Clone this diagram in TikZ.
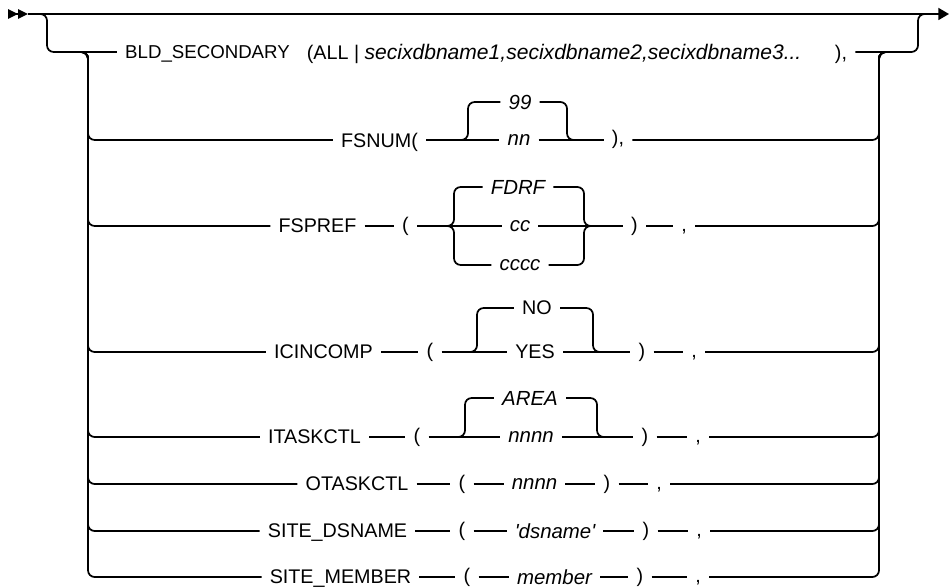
\documentclass[tikz,border=0pt]{standalone}
\usepackage{fontspec}
\setmainfont{Liberation Sans}
\usepackage{tikz}
\usetikzlibrary{arrows.meta}

\begin{document}
\begin{tikzpicture}[x=0.75pt, y=-0.75pt,
    rail/.style={line width=1.3pt},
    bus/.style={line width=1.8pt},
    turn/.style={rail, rounded corners=5pt},
    kw/.style={inner xsep=6pt, inner ysep=0pt, text depth=0pt, font=\fontsize{14.8}{17}\selectfont},
    var/.style={kw, font=\fontsize{15.3}{18}\selectfont\itshape},
    punct/.style={kw, text height=10.5pt, text depth=3pt}]
    \useasboundingbox (0,0) rectangle (949,588);

    % main line
    \coordinate (start) at (8,14);
    \coordinate (entry) at (28,14);
    \coordinate (exit) at (949,14);
    \coordinate (drop-l) at (34,14);
    \coordinate (join-r) at (928,14);
    \draw[rail, -{Triangle[length=7.5pt,width=7pt]Triangle[length=7.5pt,width=7pt]}] (start) -- (entry);
    \draw[rail, -{Triangle[length=8pt,width=9pt]}] (entry) -- (exit);

    \coordinate (busl-join) at (78,52);
    \coordinate (busl) at (88,52);
    \coordinate (busr) at (879,52);
    \coordinate (busr-join) at (895,52);
    \draw[bus] (88,60) -- (88,570);
    \draw[bus] (879,60) -- (879,570);

    \node[kw, font=\fontsize{14}{17}\selectfont] (bld) at (207.5,52) {BLD\_SECONDARY};
    \node[kw] (bld-all) at (333,52) {(ALL |};
    \node[var, font=\fontsize{15.8}{18}\selectfont\itshape] (bld-names) at (583,52) {secixdbname1,secixdbname2,secixdbname3...};
    \node[kw] (bld-close) at (841,52) {),};
    \draw[turn] (drop-l) -| (47,52) -- (bld);
    \draw[turn] (bld-close) -| (918,14) -- (join-r);

    \node[kw] (fsnum) at (379.5,140) {FSNUM(};
    \node[var] (fsnum-dflt) at (520,102) {99};
    \node[var] (fsnum-val) at (519,140) {nn};
    \node[punct] (fsnum-close) at (618,140) {),};
    \coordinate (fsnum-split) at (455,140);
    \coordinate (fsnum-merge) at (580,140);
    \draw[turn] (busl-join) -- (busl) |- (fsnum);
    \draw[rail] (fsnum) -- (fsnum-val);
    \draw[rail] (fsnum-val) -- (fsnum-close);
    \draw[turn] (fsnum-split) -| (468,102) -- (fsnum-dflt);
    \draw[turn] (fsnum-dflt) -- (567,102) |- (fsnum-merge);
    \draw[turn] (fsnum-close) -| (busr) -- (busr-join);

    \node[kw] (fspref) at (317.5,226) {FSPREF};
    \node[punct] (fspref-open) at (405.5,226) {(};
    \node[var] (fspref-dflt) at (518,187) {FDRF};
    \node[var] (fspref-cc) at (520,226) {cc};
    \node[var] (fspref-cccc) at (520,265) {cccc};
    \node[punct] (fspref-close) at (634.5,226) {)};
    \node[punct] (fspref-comma) at (684,226) {,};
    \coordinate (fspref-split) at (446,226);
    \coordinate (fspref-merge) at (592,226);
    \draw[turn] (busl-join) -- (busl) |- (fspref);
    \draw[rail] (fspref) -- (fspref-open);
    \draw[rail] (fspref-open) -- (fspref-cc);
    \draw[rail] (fspref-cc) -- (fspref-close);
    \draw[rail] (fspref-close) -- (fspref-comma);
    \draw[turn] (fspref-split) -- (454,226) |- (fspref-dflt);
    \draw[turn] (fspref-split) -- (454,226) |- (fspref-cccc);
    \draw[turn] (fspref-dflt) -| (584,226) -- (fspref-merge);
    \draw[turn] (fspref-cccc) -| (584,226) -- (fspref-merge);
    \draw[turn] (fspref-comma) -| (busr) -- (busr-join);

    \node[kw] (icincomp) at (323.5,352) {ICINCOMP};
    \node[punct] (icincomp-open) at (430,352) {(};
    \node[kw] (icincomp-dflt) at (537,308) {NO};
    \node[kw] (icincomp-yes) at (535,352) {YES};
    \node[punct] (icincomp-close) at (642,352) {)};
    \node[punct] (icincomp-comma) at (694,352) {,};
    \coordinate (icincomp-split) at (465,352);
    \coordinate (icincomp-merge) at (606,352);
    \draw[turn] (busl-join) -- (busl) |- (icincomp);
    \draw[rail] (icincomp) -- (icincomp-open);
    \draw[rail] (icincomp-open) -- (icincomp-yes);
    \draw[rail] (icincomp-yes) -- (icincomp-close);
    \draw[rail] (icincomp-close) -- (icincomp-comma);
    \draw[turn] (icincomp-split) -| (477,308) -- (icincomp-dflt);
    \draw[turn] (icincomp-dflt) -- (593,308) |- (icincomp-merge);
    \draw[turn] (icincomp-comma) -| (busr) -- (busr-join);

    \node[kw] (itaskctl) at (314.5,437) {ITASKCTL};
    \node[punct] (itaskctl-open) at (417,437) {(};
    \node[var] (itaskctl-dflt) at (530,398) {AREA};
    \node[var] (itaskctl-val) at (531,437) {nnnn};
    \node[punct] (itaskctl-close) at (645,437) {)};
    \node[punct] (itaskctl-comma) at (698,437) {,};
    \coordinate (itaskctl-split) at (453,437);
    \coordinate (itaskctl-merge) at (610,437);
    \draw[turn] (busl-join) -- (busl) |- (itaskctl);
    \draw[rail] (itaskctl) -- (itaskctl-open);
    \draw[rail] (itaskctl-open) -- (itaskctl-val);
    \draw[rail] (itaskctl-val) -- (itaskctl-close);
    \draw[rail] (itaskctl-close) -- (itaskctl-comma);
    \draw[turn] (itaskctl-split) -| (465,398) -- (itaskctl-dflt);
    \draw[turn] (itaskctl-dflt) -- (597,398) |- (itaskctl-merge);
    \draw[turn] (itaskctl-comma) -| (busr) -- (busr-join);

    \node[kw] (otaskctl) at (357,484) {OTASKCTL};
    \node[punct] (otaskctl-open) at (462,484) {(};
    \node[var] (otaskctl-val) at (534.5,484) {nnnn};
    \node[punct] (otaskctl-close) at (607,484) {)};
    \node[punct] (otaskctl-comma) at (659,484) {,};
    \draw[turn] (busl-join) -- (busl) |- (otaskctl);
    \draw[rail] (otaskctl) -- (otaskctl-open);
    \draw[rail] (otaskctl-open) -- (otaskctl-val);
    \draw[rail] (otaskctl-val) -- (otaskctl-close);
    \draw[rail] (otaskctl-close) -- (otaskctl-comma);
    \draw[turn] (otaskctl-comma) -| (busr) -- (busr-join);

    \node[kw] (dsname) at (337.5,531) {SITE\_DSNAME};
    \node[punct] (dsname-open) at (462,531) {(};
    \node[var] (dsname-val) at (555,531) {\textquotesingle dsname\textquotesingle};
    \node[punct] (dsname-close) at (646,531) {)};
    \node[punct] (dsname-comma) at (699,531) {,};
    \draw[turn] (busl-join) -- (busl) |- (dsname);
    \draw[rail] (dsname) -- (dsname-open);
    \draw[rail] (dsname-open) -- (dsname-val);
    \draw[rail] (dsname-val) -- (dsname-close);
    \draw[rail] (dsname-close) -- (dsname-comma);
    \draw[turn] (dsname-comma) -| (busr) -- (busr-join);

    \node[kw] (member) at (340.5,577) {SITE\_MEMBER};
    \node[punct] (member-open) at (467,577) {(};
    \node[var] (member-val) at (554.5,577) {member};
    \node[punct] (member-close) at (640,577) {)};
    \node[punct] (member-comma) at (698,577) {,};
    \draw[turn] (busl-join) -- (busl) |- (member);
    \draw[rail] (member) -- (member-open);
    \draw[rail] (member-open) -- (member-val);
    \draw[rail] (member-val) -- (member-close);
    \draw[rail] (member-close) -- (member-comma);
    \draw[turn] (member-comma) -| (busr) -- (busr-join);

\end{tikzpicture}
\end{document}
